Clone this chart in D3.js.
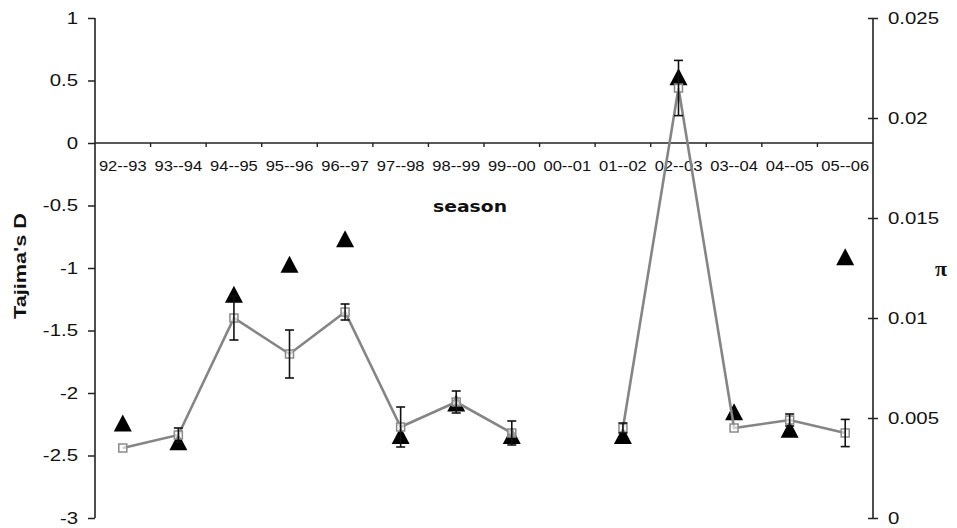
<!DOCTYPE html>
<html>
<head>
<meta charset="utf-8">
<script src="https://cdn.jsdelivr.net/npm/d3@7"></script>
<style>
  html, body { margin: 0; padding: 0; background: #fff; }
  svg { display: block; }
</style>
</head>
<body>
<svg id="chart" width="957" height="528"></svg>
<script>
// Seasons on the category axis
const seasons = ["92--93", "93--94", "94--95", "95--96", "96--97", "97--98", "98--99",
                 "99--00", "00--01", "01--02", "02--03", "03--04", "04--05", "05--06"];

// Tajima's D per season (left axis), null = no sample
const tajimaD = [-2.24, -2.39, -1.21, -0.97, -0.765, -2.34, -2.08,
                 -2.34, null, -2.34, 0.53, -2.15, -2.29, -0.91];

// Nucleotide diversity (pi) per season (right axis) and its standard deviation
const piValues = [0.0035, 0.00415, 0.0100, 0.0082, 0.0103, 0.00455, 0.0058,
                  0.00425, null, 0.0045, 0.0215, 0.0045, 0.0049, 0.00425];
const piErr = [0, 0.00035, 0.0011, 0.0012, 0.0004, 0.001, 0.00055,
               0.0006, null, 0.00025, 0.00138, 0, 0.0003, 0.00068];

// Axis tick labels
const leftTicks = [1, 0.5, 0, -0.5, -1, -1.5, -2, -2.5, -3];
const rightTicks = [0, 0.005, 0.01, 0.015, 0.02, 0.025];

const svg = d3.select("#chart");
const plotLeft = 95, plotRight = 873, plotTop = 18, plotBottom = 518;

const x = d3.scaleBand().domain(seasons).range([plotLeft, plotRight]).padding(0);
const yL = d3.scaleLinear().domain([-3, 1]).range([plotBottom, plotTop]);
const yR = d3.scaleLinear().domain([0, 0.025]).range([plotBottom, plotTop]);
const cx = s => x(s) + x.bandwidth() / 2;

const sx = 1.2; // horizontal stretch of the label lettering

function styleTicks(g, size, dx) {
  g.attr("font-family", "'Liberation Sans', Arial, sans-serif")
   .attr("font-size", size);
  g.select(".domain").remove();
  g.selectAll("text")
   .attr("fill", "#111")
   .attr("x", dx / sx)
   .attr("transform", `scale(${sx},1)`);
}

// Left axis (Tajima's D)
const gL = svg.append("g").attr("transform", `translate(${plotLeft},0)`)
  .call(d3.axisLeft(yL).tickValues(leftTicks).tickSize(7).tickPadding(10)
        .tickFormat(d => String(d)));
styleTicks(gL, 17, -17);
gL.selectAll("line").attr("stroke", "#222").attr("stroke-width", 1.5);
svg.append("line").attr("x1", plotLeft).attr("x2", plotLeft)
  .attr("y1", plotTop).attr("y2", plotBottom)
  .attr("stroke", "#222").attr("stroke-width", 1.6);

// Right axis (pi) with ticks crossing the axis line
const gR = svg.append("g").attr("transform", `translate(${plotRight},0)`)
  .call(d3.axisRight(yR).tickValues(rightTicks).tickSize(5).tickPadding(10)
        .tickFormat(d => String(d)));
styleTicks(gR, 17, 15);
gR.selectAll("line").attr("x1", -5).attr("stroke", "#222").attr("stroke-width", 1.5);
svg.append("line").attr("x1", plotRight).attr("x2", plotRight)
  .attr("y1", plotTop).attr("y2", plotBottom)
  .attr("stroke", "#222").attr("stroke-width", 1.6);

// Category axis along D = 0, tick marks at the band boundaries
const y0 = yL(0);
svg.append("line").attr("x1", plotLeft).attr("x2", plotRight)
  .attr("y1", y0).attr("y2", y0)
  .attr("stroke", "#222").attr("stroke-width", 1.6);
svg.append("g").selectAll("line")
  .data(seasons.slice(1))
  .join("line")
  .attr("x1", d => x(d)).attr("x2", d => x(d))
  .attr("y1", y0).attr("y2", y0 + 4)
  .attr("stroke", "#222").attr("stroke-width", 1.4);
const gX = svg.append("g").attr("transform", `translate(0,${y0})`)
  .call(d3.axisBottom(x).tickSize(0).tickPadding(18));
gX.attr("font-family", "'Liberation Sans', Arial, sans-serif").attr("font-size", 14);
gX.select(".domain").remove();
gX.selectAll(".tick text").attr("fill", "#111").attr("transform", "scale(1.18,1)");

// Axis titles
svg.append("text")
  .attr("transform", `translate(26,266) rotate(-90)`)
  .attr("text-anchor", "middle")
  .attr("font-family", "'Liberation Sans', Arial, sans-serif")
  .attr("font-weight", "bold").attr("font-size", 17)
  .attr("textLength", 106).attr("lengthAdjust", "spacingAndGlyphs")
  .attr("fill", "#111")
  .text("Tajima's D");

svg.append("text")
  .attr("x", 470).attr("y", 212)
  .attr("text-anchor", "middle")
  .attr("font-family", "'DejaVu Sans', Verdana, sans-serif")
  .attr("font-weight", "bold").attr("font-size", 15)
  .attr("textLength", 74).attr("lengthAdjust", "spacingAndGlyphs")
  .attr("fill", "#111")
  .text("season");

svg.append("text")
  .attr("x", 941).attr("y", 276)
  .attr("text-anchor", "middle")
  .attr("font-family", "'Liberation Serif', 'Times New Roman', serif")
  .attr("font-weight", "bold").attr("font-size", 22)
  .attr("fill", "#111")
  .text("π");

// Tajima's D markers: filled triangles
const triW = 18, triH = 17;
const triangle = d3.line();
svg.append("g").selectAll("path")
  .data(seasons.map((s, i) => ({ s, v: tajimaD[i] })).filter(d => d.v != null))
  .join("path")
  .attr("d", d => {
    const px = cx(d.s), py = yL(d.v);
    return triangle([[px, py - triH / 2], [px + triW / 2, py + triH / 2], [px - triW / 2, py + triH / 2]]) + "Z";
  })
  .attr("fill", "#000");

// Pi series: line, open squares, error bars
const piData = seasons.map((s, i) => ({ s, v: piValues[i], e: piErr[i] }));
svg.append("path")
  .datum(piData)
  .attr("fill", "none")
  .attr("stroke", "#858585")
  .attr("stroke-width", 2.6)
  .attr("d", d3.line().defined(d => d.v != null).x(d => cx(d.s)).y(d => yR(d.v)));

const pts = piData.filter(d => d.v != null);
svg.append("g").selectAll("rect")
  .data(pts)
  .join("rect")
  .attr("x", d => cx(d.s) - 4).attr("y", d => yR(d.v) - 4)
  .attr("width", 8).attr("height", 8)
  .attr("fill", "#fff").attr("fill-opacity", 0.6)
  .attr("stroke", "#8a8a8a").attr("stroke-width", 1.5);

const eb = svg.append("g").attr("stroke", "#111").attr("stroke-width", 1.6);
pts.filter(d => d.e > 0).forEach(d => {
  const px = cx(d.s), top = yR(d.v + d.e), bot = yR(d.v - d.e);
  eb.append("line").attr("x1", px).attr("x2", px).attr("y1", top).attr("y2", bot);
  eb.append("line").attr("x1", px - 4.5).attr("x2", px + 4.5).attr("y1", top).attr("y2", top);
  eb.append("line").attr("x1", px - 4.5).attr("x2", px + 4.5).attr("y1", bot).attr("y2", bot);
});
</script>
</body>
</html>
